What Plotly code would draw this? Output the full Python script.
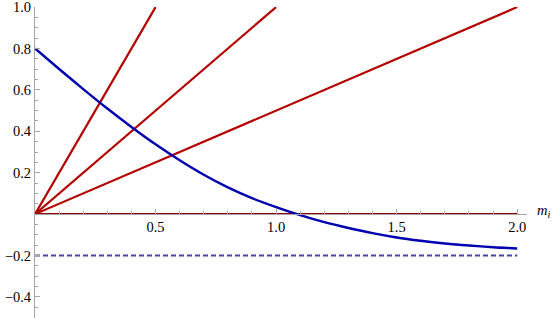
import plotly.graph_objects as go

# Data
slopes = [2.0, 1.0, 0.5]          # red lines through origin, clipped at y=1
red_end_x = [0.5, 1.0, 2.0]
zero_line_x = [0.0, 2.0]
zero_line_y = [0.0, 0.0]

curve_x = [0.0, 0.1, 0.2, 0.3, 0.4, 0.5, 0.6, 0.7, 0.8, 0.9, 1.0,
           1.1, 1.2, 1.3, 1.4, 1.5, 1.6, 1.7, 1.8, 1.9, 2.0]
curve_y = [0.800, 0.701, 0.604, 0.510, 0.421, 0.337, 0.260, 0.190, 0.129, 0.077, 0.034,
           -0.005, -0.039, -0.067, -0.092, -0.113, -0.129, -0.142, -0.152, -0.160, -0.166]

dash_x = [0.0, 2.0]
dash_y = [-0.2, -0.2]

x_tickvals = [0.5, 1.0, 1.5, 2.0]
x_ticktext = ["0.5", "1.0", "1.5", "2.0"]
y_tickvals = [-0.4, -0.2, 0.2, 0.4, 0.6, 0.8, 1.0]
y_ticktext = ["\u22120.4", "\u22120.2", "0.2", "0.4", "0.6", "0.8", "1.0"]

RED = "#b30000"
DARKRED = "#8c0000"
BLUE = "#0000b0"
DASHBLUE = "#4343a8"
AXIS = "#a6a6a6"
FONT = "Times New Roman"
FS = 14.5

W, H = 554, 318
ml, mr, mt, mb = 35, 27, 7, 0
ymin, ymax = -0.502, 1.0005
xmin, xmax = 0.0, (W - mr - ml) / 241.1

fig = go.Figure()

fig.add_trace(go.Scatter(x=dash_x, y=dash_y, mode="lines", hoverinfo="skip",
                         line=dict(color=DASHBLUE, width=2.2, dash="5px,3px")))
fig.add_trace(go.Scatter(x=zero_line_x, y=zero_line_y, mode="lines", hoverinfo="skip",
                         line=dict(color=DARKRED, width=2)))
for s, xe in zip(slopes, red_end_x):
    fig.add_trace(go.Scatter(x=[0.0, xe], y=[0.0, s * xe], mode="lines", hoverinfo="skip",
                             line=dict(color=RED, width=2.2)))
fig.add_trace(go.Scatter(x=curve_x, y=curve_y, mode="lines", line_shape="spline",
                         hoverinfo="skip",
                         line=dict(color=BLUE, width=2.4, smoothing=0.8)))

xpos = (0 - ymin) / (ymax - ymin)

fig.update_layout(
    width=W, height=H,
    margin=dict(l=ml, r=mr, t=mt, b=mb),
    paper_bgcolor="white", plot_bgcolor="white",
    showlegend=False,
    font=dict(family=FONT, size=FS, color="black"),
    xaxis=dict(range=[xmin, xmax], anchor="free", position=xpos, automargin=False,
               showline=True, linecolor=AXIS, linewidth=1,
               showgrid=False, zeroline=False, ticklabeloverflow="allow",
               tickmode="array", tickvals=x_tickvals, ticktext=x_ticktext,
               ticks="inside", ticklen=5, tickcolor=AXIS, tickwidth=1,
               minor=dict(tickmode="linear", tick0=0, dtick=0.1, ticks="inside",
                          ticklen=3, tickcolor=AXIS, showgrid=False),
               tickfont=dict(family=FONT, size=FS, color="black")),
    yaxis=dict(range=[ymin, ymax], automargin=False,
               showline=True, linecolor=AXIS, linewidth=1,
               showgrid=False, zeroline=False, ticklabeloverflow="allow",
               tickmode="array", tickvals=y_tickvals, ticktext=y_ticktext,
               ticks="inside", ticklen=5, tickcolor=AXIS, tickwidth=1,
               minor=dict(tickmode="linear", tick0=0, dtick=0.05, ticks="inside",
                          ticklen=3, tickcolor=AXIS, showgrid=False),
               tickfont=dict(family=FONT, size=FS, color="black")),
)

fig.add_annotation(xref="paper", yref="paper",
                   x=(535 - ml) / (W - ml - mr), y=(H - mb - 211) / (H - mt - mb),
                   xanchor="left", yanchor="middle", showarrow=False,
                   text="<i>m</i><sub><i>i</i></sub>",
                   font=dict(family=FONT, size=FS, color="black"))

fig.write_html("out.html", config={"displayModeBar": False},
               post_script="document.body.style.margin='0';document.body.style.padding='0';")
